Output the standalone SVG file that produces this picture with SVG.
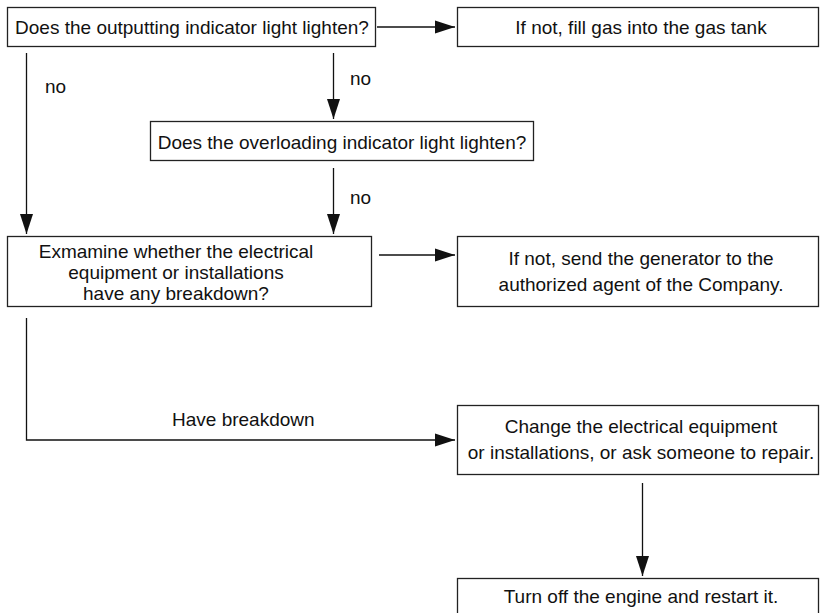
<svg xmlns="http://www.w3.org/2000/svg" width="820" height="613" viewBox="0 0 820 613">
<defs>
<marker id="ah" markerWidth="20" markerHeight="14" refX="20" refY="7" orient="auto" markerUnits="userSpaceOnUse">
<path d="M0,0.5 L20,7 L0,13.5 Z" fill="#111"/>
</marker>
<style>
.box{fill:#fff;stroke:#222;stroke-width:1.3}
.t{font-family:"Liberation Sans",Arial,sans-serif;font-size:19px;fill:#111;text-anchor:middle}
.l{font-family:"Liberation Sans",Arial,sans-serif;font-size:19px;fill:#111}
.c{fill:none;stroke:#111;stroke-width:1.3}
</style>
</defs>
<rect width="820" height="613" fill="#fff"/>
<g id="n1"><rect class="box" x="7.5" y="7.5" width="368" height="39"/><text class="t" x="192" y="34">Does the outputting indicator light lighten?</text></g>
<g id="n2"><rect class="box" x="457.5" y="7.5" width="361" height="39"/><text class="t" x="641" y="34">If not, fill gas into the gas tank</text></g>
<g id="n3"><rect class="box" x="150.5" y="121.5" width="383" height="39"/><text class="t" x="342" y="149">Does the overloading indicator light lighten?</text></g>
<g id="n4"><rect class="box" x="7.5" y="236.5" width="364" height="70"/><text class="t" x="176" y="258">Exmamine whether the electrical</text><text class="t" x="176" y="279">equipment or installations</text><text class="t" x="176" y="300">have any breakdown?</text></g>
<g id="n5"><rect class="box" x="457.5" y="236.5" width="361" height="70"/><text class="t" x="641" y="265">If not, send the generator to the</text><text class="t" x="641" y="291">authorized agent of the Company.</text></g>
<g id="n6"><rect class="box" x="457.5" y="405.5" width="361" height="69"/><text class="t" x="641" y="433">Change the electrical equipment</text><text class="t" x="641" y="459">or installations, or ask someone to repair.</text></g>
<g id="n7"><rect class="box" x="457.5" y="578.5" width="361" height="50"/><text class="t" x="641" y="603">Turn off the engine and restart it.</text></g>
<g id="connectors">
<line class="c" x1="377" y1="27" x2="455" y2="27" marker-end="url(#ah)"/>
<line class="c" x1="26.5" y1="53" x2="26.5" y2="234" marker-end="url(#ah)"/>
<line class="c" x1="333.5" y1="53" x2="333.5" y2="119" marker-end="url(#ah)"/>
<line class="c" x1="333.5" y1="168" x2="333.5" y2="234" marker-end="url(#ah)"/>
<line class="c" x1="379" y1="255" x2="455" y2="255" marker-end="url(#ah)"/>
<polyline class="c" points="26.5,318 26.5,440 455,440" marker-end="url(#ah)"/>
<line class="c" x1="642.5" y1="483" x2="642.5" y2="576" marker-end="url(#ah)"/>
<text class="l" x="45" y="93">no</text>
<text class="l" x="350" y="85">no</text>
<text class="l" x="350" y="204">no</text>
<text class="l" x="172" y="426">Have breakdown</text>
</g>
</svg>
